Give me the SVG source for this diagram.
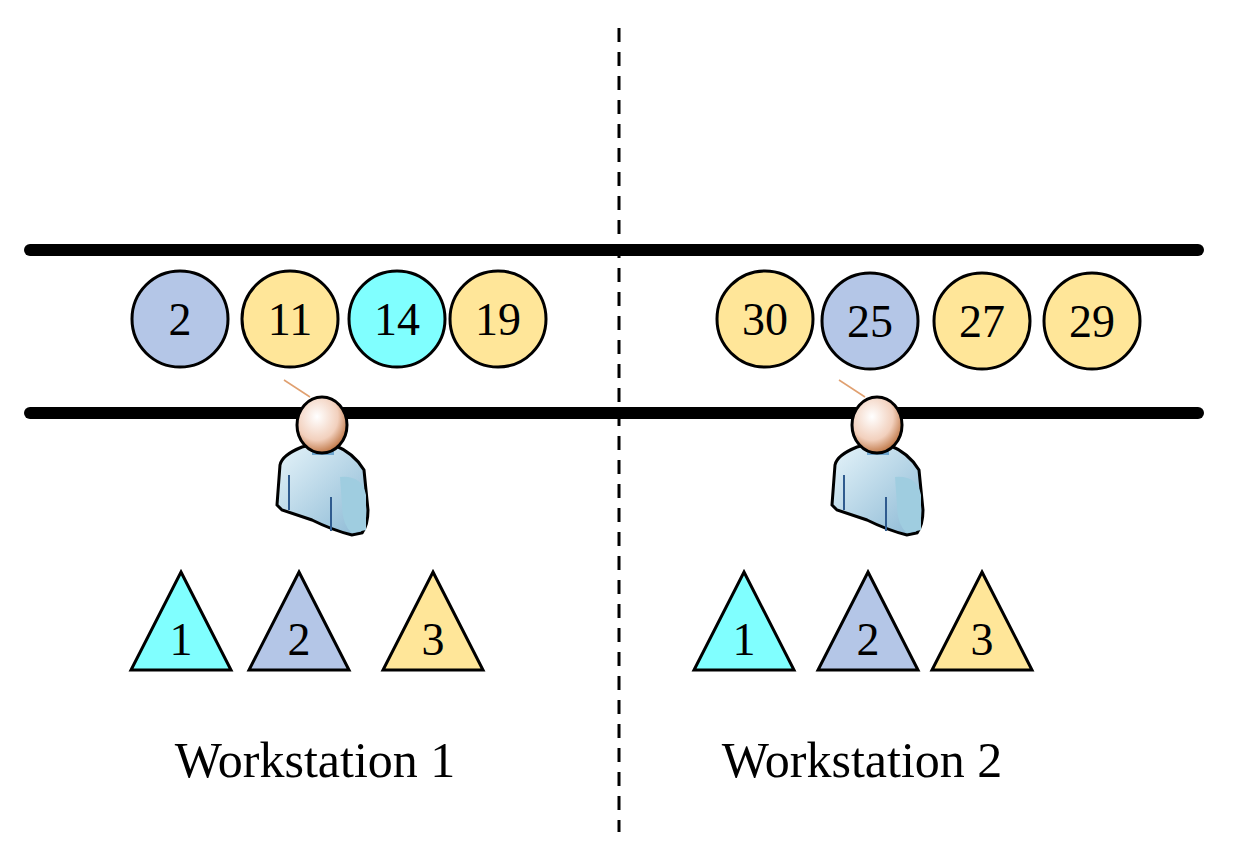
<svg xmlns="http://www.w3.org/2000/svg" width="1248" height="866" viewBox="0 0 1248 866">
<style>
.t{font-family:"Liberation Serif",serif;font-size:46px;text-anchor:middle;fill:#000}
.l{font-family:"Liberation Serif",serif;font-size:50px;text-anchor:middle;fill:#000}
.s{stroke:#000;stroke-width:3}
.b{fill:#b4c6e7}.o{fill:#ffe699}.c{fill:#80ffff}
</style>
<defs>
<radialGradient id="hd" cx="0.4" cy="0.35" r="0.7"><stop offset="0" stop-color="#fff"/><stop offset="0.6" stop-color="#f2d0bd"/><stop offset="1" stop-color="#b86a35"/></radialGradient>
<linearGradient id="bd" x1="0" y1="0" x2="1" y2="1"><stop offset="0" stop-color="#e6f4fa"/><stop offset="1" stop-color="#8ab8d4"/></linearGradient>
<g id="person">
<line x1="-38" y1="-45" x2="-12" y2="-28" stroke="#e0a070" stroke-width="1.5"/>
<path d="M-42,40 Q-40,30 -20,22 L-12,20 L12,20 Q32,28 42,45 L46,85 Q46,100 40,108 L30,110 Q10,105 -10,95 L-40,85 L-45,80 Z" fill="url(#bd)" stroke="#000" stroke-width="3"/>
<path d="M18,52 Q40,50 44,70 L44,105 L30,108 Q20,100 20,80 Z" fill="#9fcde0"/>
<rect x="-10" y="18" width="22" height="12" fill="#6fa6cf"/>
<line x1="-33" y1="50" x2="-33" y2="85" stroke="#2f5b8f" stroke-width="2"/>
<line x1="9" y1="72" x2="9" y2="106" stroke="#2f5b8f" stroke-width="2"/>
<ellipse cx="0" cy="0" rx="25" ry="28" fill="url(#hd)" stroke="#000" stroke-width="3"/>
</g>
</defs>
<g id="connectors">
<line x1="30" y1="250" x2="1198" y2="250" stroke="#000" stroke-width="12" stroke-linecap="round"/>
<line x1="30" y1="413" x2="1198" y2="413" stroke="#000" stroke-width="12" stroke-linecap="round"/>
<line x1="619" y1="28" x2="619" y2="832" stroke="#000" stroke-width="3" stroke-dasharray="14,10"/>
</g>
<g id="c2"><circle class="s b" cx="180" cy="319" r="48"/><text class="t" x="180" y="335">2</text></g>
<g id="c11"><circle class="s o" cx="290" cy="319" r="48"/><text class="t" x="290" y="335">11</text></g>
<g id="c14"><circle class="s c" cx="397" cy="319" r="48"/><text class="t" x="397" y="335">14</text></g>
<g id="c19"><circle class="s o" cx="498" cy="319" r="48"/><text class="t" x="498" y="335">19</text></g>
<g id="c30"><circle class="s o" cx="765" cy="319" r="48"/><text class="t" x="765" y="335">30</text></g>
<g id="c25"><circle class="s b" cx="870" cy="321" r="48"/><text class="t" x="870" y="337">25</text></g>
<g id="c27"><circle class="s o" cx="982" cy="321" r="48"/><text class="t" x="982" y="337">27</text></g>
<g id="c29"><circle class="s o" cx="1092" cy="321" r="48"/><text class="t" x="1092" y="337">29</text></g>
<g id="worker1"><use href="#person" x="322" y="425"/></g>
<g id="worker2"><use href="#person" x="877" y="425"/></g>
<g id="t1a"><polygon class="s c" points="181,572 231,670 131,670"/><text class="t" x="181" y="655">1</text></g>
<g id="t1b"><polygon class="s b" points="299,572 349,670 249,670"/><text class="t" x="299" y="655">2</text></g>
<g id="t1c"><polygon class="s o" points="433,572 483,670 383,670"/><text class="t" x="433" y="655">3</text></g>
<g id="t2a"><polygon class="s c" points="744,572 794,670 694,670"/><text class="t" x="744" y="655">1</text></g>
<g id="t2b"><polygon class="s b" points="868,572 918,670 818,670"/><text class="t" x="868" y="655">2</text></g>
<g id="t2c"><polygon class="s o" points="982,572 1032,670 932,670"/><text class="t" x="982" y="655">3</text></g>
<text class="l" x="315" y="777">Workstation 1</text>
<text class="l" x="862" y="777">Workstation 2</text>
</svg>
